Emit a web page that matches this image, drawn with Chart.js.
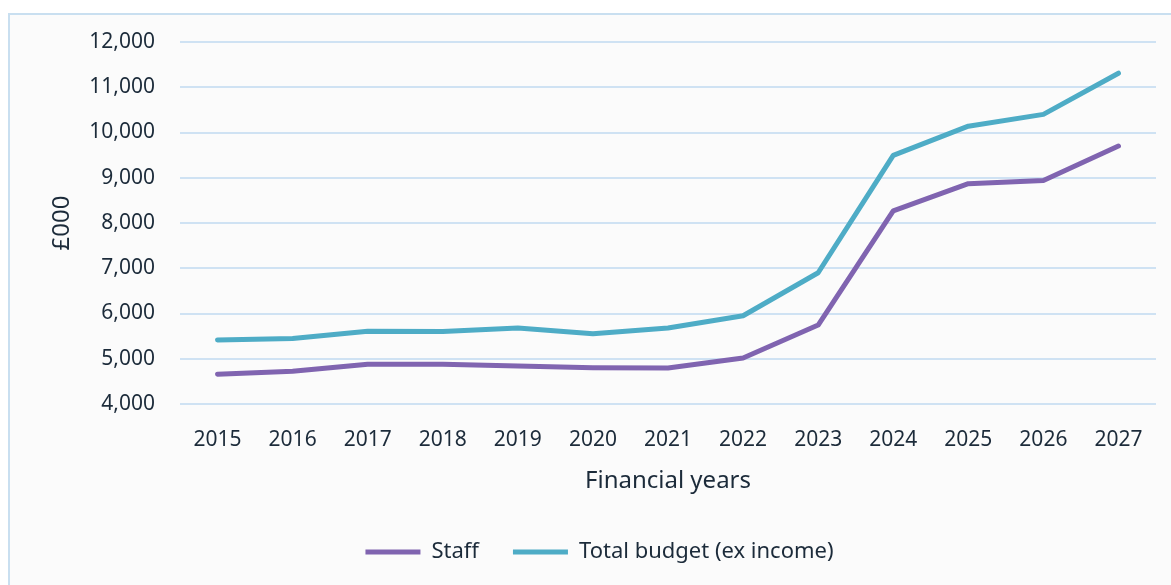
<!DOCTYPE html>
<html>
<head>
<meta charset="utf-8">
<script src="https://cdn.jsdelivr.net/npm/chart.js@4"></script>
<style>
	html, body { margin: 0; padding: 0; background: #ffffff; }
	#frame {
		position: absolute; left: 8px; top: 13px; width: 1180px; height: 600px;
		background: #fbfbfb; border: 2px solid #c9dff0; box-sizing: border-box;
	}
	#wrap { position: absolute; left: 0; top: 0; width: 1171px; height: 585px; }
</style>
</head>
<body>
<div id="frame"></div>
<div id="wrap"><canvas id="budgetChart" width="1171" height="585"></canvas></div>
<script>
const years = ["2015", "2016", "2017", "2018", "2019", "2020", "2021", "2022", "2023", "2024", "2025", "2026", "2027"];
const staff = [4660, 4725, 4880, 4880, 4840, 4800, 4795, 5015, 5745, 8270, 8870, 8940, 9700];
const totalBudget = [5415, 5450, 5610, 5600, 5680, 5555, 5680, 5950, 6900, 9495, 10140, 10400, 11310];
const yTicks = [4000, 5000, 6000, 7000, 8000, 9000, 10000, 11000, 12000];

document.addEventListener("DOMContentLoaded", function () {
	const ctx = document.getElementById("budgetChart");
	const textColor = "#1c2b3a";
	const fontFamily = "'Noto Sans', 'Open Sans', sans-serif";

	new Chart(ctx, {
		type: "line",
		data: {
			labels: years,
			datasets: [
				{
					label: "Staff",
					data: staff,
					borderColor: "#8064b0",
					backgroundColor: "#8064b0",
					borderWidth: 5,
					borderCapStyle: "round",
					borderJoinStyle: "round",
					pointRadius: 0,
					tension: 0,
				},
				{
					label: "Total budget (ex income)",
					data: totalBudget,
					borderColor: "#4eacc6",
					backgroundColor: "#4eacc6",
					borderWidth: 5,
					borderCapStyle: "round",
					borderJoinStyle: "round",
					pointRadius: 0,
					tension: 0,
				},
			],
		},
		options: {
			responsive: false,
			animation: false,
			layout: { padding: { left: 43, right: 15, top: 42, bottom: 12 } },
			plugins: {
				tooltip: { enabled: false },
				legend: {
					position: "bottom",
					labels: {
						color: textColor,
						font: { family: fontFamily, size: 22 },
						usePointStyle: true,
						pointStyle: "line",
						pointStyleWidth: 55,
						padding: 34,
					},
				},
			},
			scales: {
				x: {
					offset: true,
					grid: { display: false },
					border: { display: false },
					ticks: {
						color: textColor,
						font: { family: fontFamily, size: 21 },
						padding: 15,
						maxRotation: 0,
					},
					title: {
						display: true,
						text: "Financial years",
						color: textColor,
						font: { family: fontFamily, size: 24 },
						padding: { top: 0, bottom: 11 },
					},
					afterFit: function (scale) { scale.height = 103; },
				},
				y: {
					min: 4000,
					max: 12000,
					afterBuildTicks: function (scale) {
						scale.ticks = yTicks.map(function (v) { return { value: v }; });
					},
					grid: { color: "#cfe2f3", lineWidth: 2, drawTicks: false },
					border: { display: false },
					ticks: {
						color: textColor,
						font: { family: fontFamily, size: 21 },
						padding: 25,
						callback: function (v) { return v.toLocaleString("en-GB"); },
					},
					title: {
						display: true,
						text: "£000",
						color: textColor,
						font: { family: fontFamily, size: 24 },
						padding: { top: 5, bottom: 0 },
					},
					afterFit: function (scale) { scale.width = 137; },
				},
			},
		},
	});
});
</script>
</body>
</html>
